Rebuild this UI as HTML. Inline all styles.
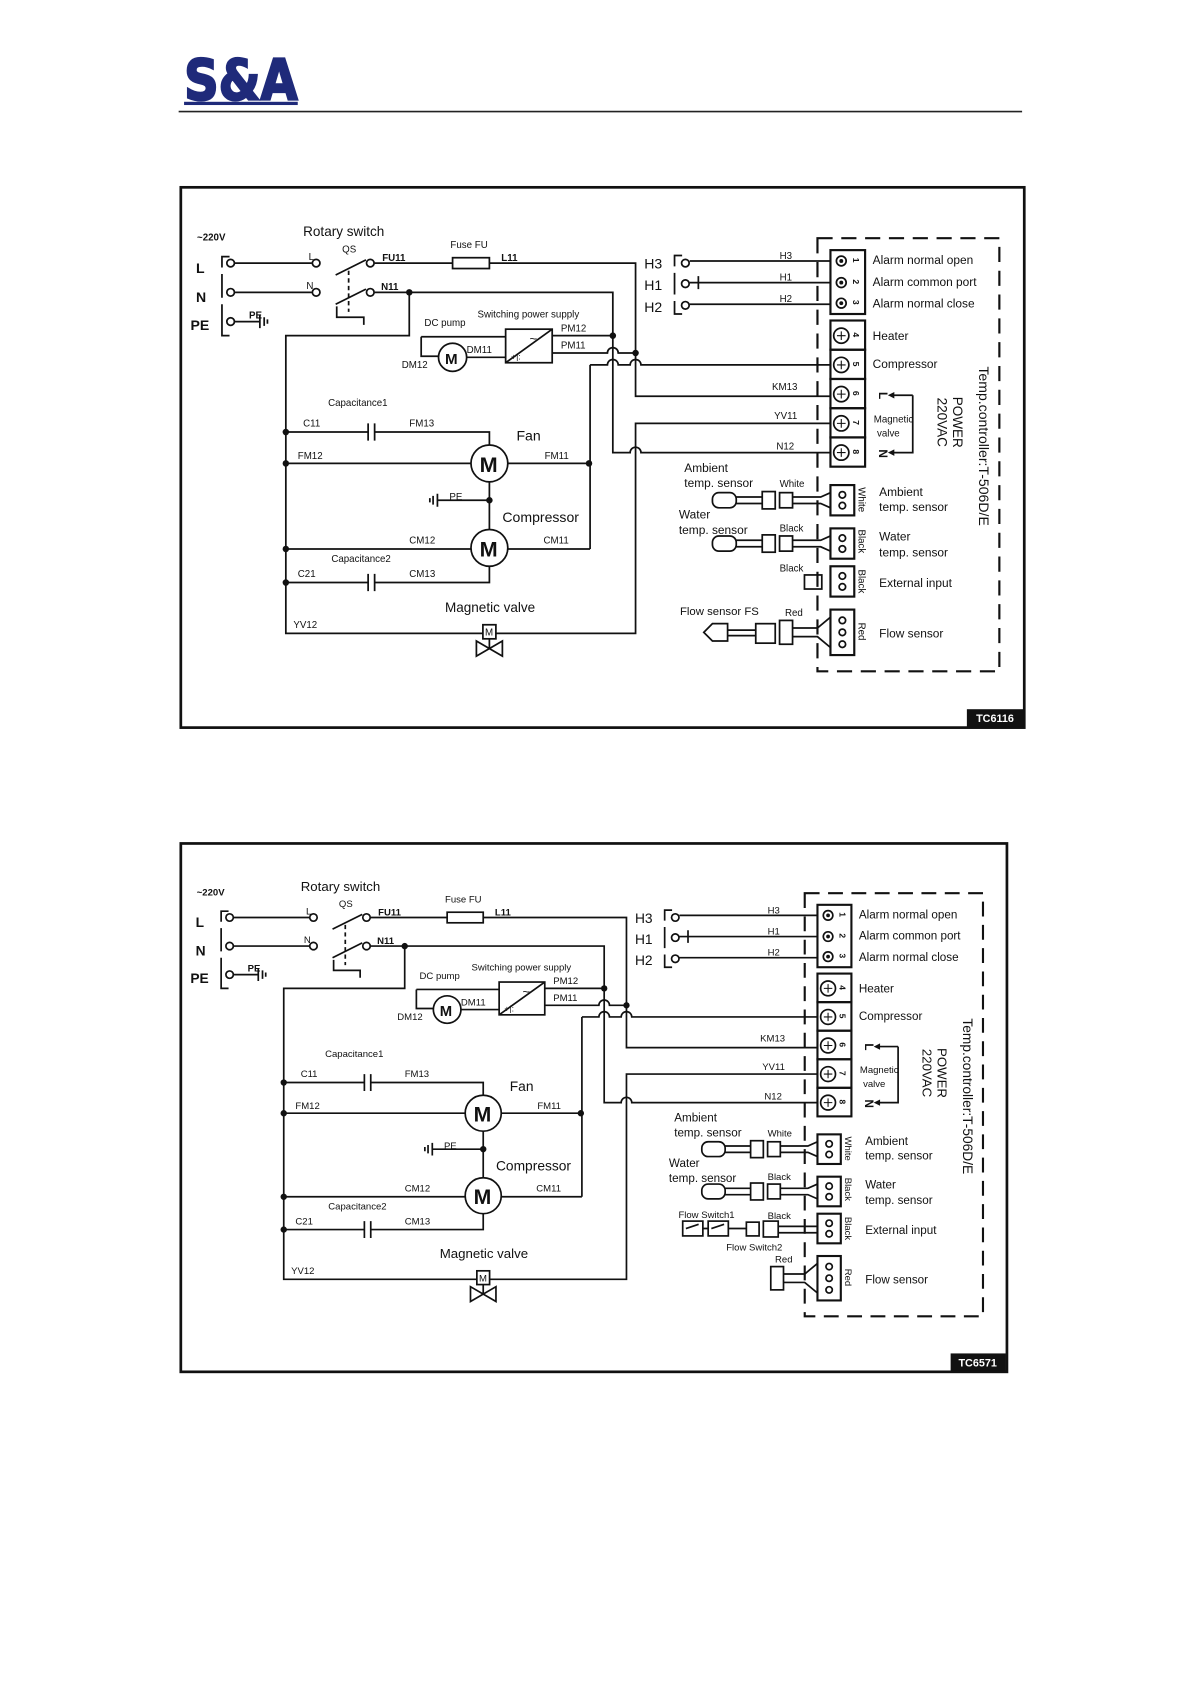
<!DOCTYPE html>
<html><head><meta charset="utf-8"><style>
html,body{margin:0;padding:0;background:#fff}
svg{display:block}
text{font-family:"Liberation Sans",sans-serif;fill:#111}
</style></head><body>
<svg width="1191" height="1684" viewBox="0 0 1100 1555.3" xmlns="http://www.w3.org/2000/svg">
<rect width="1100" height="1556" fill="#fff"/>
<!-- logo -->
<text x="170" y="92" font-weight="bold" font-size="52" textLength="105" lengthAdjust="spacingAndGlyphs" stroke="#1f2a7a" stroke-width="2" style="fill:#1f2a7a;font-family:'DejaVu Sans','Liberation Sans',sans-serif">S&amp;A</text>
<rect x="170" y="94" width="105" height="3" fill="#1f2a7a"/>
<line x1="165" y1="103" x2="944" y2="103" stroke="#222" stroke-width="1.5"/>

<!-- frames -->
<rect x="167" y="173" width="779" height="499" fill="none" stroke="#111" stroke-width="2.5"/>
<rect x="893" y="655" width="52" height="16" fill="#111"/>
<text x="919" y="667" font-size="10" font-weight="bold" text-anchor="middle" style="fill:#fff">TC6116</text>
<rect x="167" y="779" width="763" height="488" fill="none" stroke="#111" stroke-width="2.5"/>
<rect x="878" y="1250" width="51" height="16" fill="#111"/>
<text x="903" y="1262" font-size="10" font-weight="bold" text-anchor="middle" style="fill:#fff">TC6571</text>

<!-- DIAGRAM 1 -->
<g>
<g stroke="#111" stroke-width="1.6" fill="none">
<path d="M212,237 H205 V247 M205,253 V275 M205,281 V310 H212"/>
<circle cx="213" cy="243" r="3.5"/><circle cx="213" cy="270" r="3.5"/><circle cx="213" cy="297" r="3.5"/>
<path d="M217,243 H288 M217,270 H288 M217,297 H240 M240,291 V303 M244,293 V301 M247,295 V299"/>
<circle cx="292" cy="243" r="3.5"/><circle cx="342" cy="243" r="3.5"/>
<circle cx="292" cy="270" r="3.5"/><circle cx="342" cy="270" r="3.5"/>
<path d="M310,254 L338,240 M310,281 L338,267"/>
<path d="M322,250 V288" stroke-dasharray="4 3"/>
<path d="M311,283 V293 H336 V300"/>
<path d="M346,243 H418 M452,243 H587 V366 H767"/>
<rect x="418" y="238" width="34" height="10"/>
<path d="M346,270 H566 V418 H582 a5,5 0 0 1 10,0 H767"/>
<path d="M378,270 V310 H264 V585 H587 V391 H767"/>
<path d="M545,337 H561 a5,5 0 0 1 10,0 H582 a5,5 0 0 1 10,0 H767 M545,337 V507"/>
<path d="M510,326 H561 a5,5 0 0 1 10,0 H587 M510,310 H566"/>
<rect x="467" y="304" width="43" height="31"/>
<path d="M467,335 L510,304"/>
<circle cx="418" cy="330" r="13"/>
<path d="M389,311 H467 M389,311 V329 H405 M431,330 H467"/>
<circle cx="452" cy="428" r="17"/><circle cx="452" cy="506" r="17"/>
<path d="M264,399 H340 M346,399 H452 V411 M340,391 V407 M346,391 V407"/>
<path d="M264,428 H435 M469,428 H545 M452,445 V489 M404,462 H452 M404,456 V468 M400,458 V466 M397,460 V464"/>
<path d="M264,507 H435 M469,507 H545"/>
<path d="M264,538 H340 M346,538 H452 V523 M340,530 V546 M346,530 V546"/>
<rect x="446" y="577" width="12" height="13" fill="#fff"/>
<path d="M452,590 V599 M440,592 L464,606 V592 L440,606 Z"/>
<path d="M630,236 H623 V246 M623,252 V272 M623,278 V290 H630"/>
<circle cx="633" cy="243" r="3.5"/><circle cx="633" cy="262" r="3.5"/><circle cx="633" cy="282" r="3.5"/>
<path d="M637,241 H767 M637,261 H767 M637,281 H767 M645,255 V267"/>
<rect x="767" y="231" width="32" height="59" stroke-width="2"/>
<rect x="767" y="296" width="32" height="27" stroke-width="2"/>
<rect x="767" y="323" width="32" height="27" stroke-width="2"/>
<rect x="767" y="350" width="32" height="27" stroke-width="2"/>
<rect x="767" y="377" width="32" height="27" stroke-width="2"/>
<rect x="767" y="404" width="32" height="27" stroke-width="2"/>
<circle cx="777" cy="241" r="4.5"/><circle cx="777" cy="261" r="4.5"/><circle cx="777" cy="280" r="4.5"/>
<circle cx="777" cy="310" r="7"/><circle cx="777" cy="337" r="7"/><circle cx="777" cy="364" r="7"/><circle cx="777" cy="391" r="7"/><circle cx="777" cy="418" r="7"/>
<path d="M773,310 h8 M777,306 v8 M773,337 h8 M777,333 v8 M773,364 h8 M777,360 v8 M773,391 h8 M777,387 v8 M773,418 h8 M777,414 v8" stroke-width="1"/>
<path d="M843,365 H823 M843,365 V418 H823"/>
<path d="M755,220 H923 V620 H755 Z" stroke-dasharray="14 8" stroke-width="2"/>
<rect x="767" y="448" width="22" height="28" stroke-width="2" fill="#fff"/>
<rect x="767" y="488" width="22" height="28" stroke-width="2" fill="#fff"/>
<rect x="767" y="523" width="22" height="28" stroke-width="2" fill="#fff"/>
<rect x="767" y="563" width="22" height="42" stroke-width="2" fill="#fff"/>
<circle cx="778" cy="457" r="3"/><circle cx="778" cy="467" r="3"/>
<circle cx="778" cy="497" r="3"/><circle cx="778" cy="507" r="3"/>
<circle cx="778" cy="532" r="3"/><circle cx="778" cy="542" r="3"/>
<circle cx="778" cy="573" r="3"/><circle cx="778" cy="584" r="3"/><circle cx="778" cy="595" r="3"/>
<rect x="658" y="455" width="22" height="14" rx="6"/>
<path d="M680,459 H704 M680,465 H704"/>
<rect x="704" y="454" width="12" height="16"/><rect x="720" y="455" width="12" height="14"/>
<path d="M732,459 H758 L767,455 M732,465 H758 L767,469"/>
<rect x="658" y="495" width="22" height="14" rx="6"/>
<path d="M680,499 H704 M680,505 H704"/>
<rect x="704" y="494" width="12" height="16"/><rect x="720" y="495" width="12" height="14"/>
<path d="M732,499 H758 L767,495 M732,505 H758 L767,509"/>
<rect x="743" y="531" width="16" height="13"/>
<path d="M650,584 L658,576 H672 V592 H658 Z M672,582 H698 M672,587 H698"/>
<rect x="698" y="576" width="18" height="18"/><rect x="720" y="573" width="12" height="22"/>
<path d="M732,580 H755 L767,570 M732,588 H755 L767,598"/>
</g>
<g fill="#111">
<circle cx="378" cy="270" r="3"/><circle cx="587" cy="326" r="3"/><circle cx="566" cy="310" r="3"/>
<circle cx="544" cy="428" r="3"/><circle cx="452" cy="462" r="3"/>
<circle cx="264" cy="399" r="3"/><circle cx="264" cy="428" r="3"/><circle cx="264" cy="507" r="3"/><circle cx="264" cy="538" r="3"/>
<circle cx="777" cy="241" r="1.8"/><circle cx="777" cy="261" r="1.8"/><circle cx="777" cy="280" r="1.8"/>
<path d="M820,365 l6,-3 v6 Z M820,418 l6,-3 v6 Z"/>
</g>
<g font-size="9">
<text x="182" y="222" font-weight="bold">~220V</text>
<text x="181" y="252" font-size="13" font-weight="bold">L</text>
<text x="181" y="279" font-size="13" font-weight="bold">N</text>
<text x="176" y="305" font-size="13" font-weight="bold">PE</text>
<text x="230" y="294" font-weight="bold">PE</text>
<text x="280" y="218" font-size="12.5">Rotary switch</text>
<text x="316" y="233">QS</text>
<text x="285" y="240">L</text><text x="283" y="267">N</text>
<text x="353" y="241" font-weight="bold">FU11</text>
<text x="352" y="268" font-weight="bold">N11</text>
<text x="416" y="229">Fuse FU</text>
<text x="463" y="241" font-weight="bold">L11</text>
<text x="392" y="301">DC pump</text>
<text x="441" y="293">Switching power supply</text>
<text x="518" y="306">PM12</text><text x="518" y="322">PM11</text>
<text x="431" y="326">DM11</text><text x="371" y="340">DM12</text>
<text x="411" y="336" font-size="14" font-weight="bold">M</text>
<text x="489" y="317" font-size="12">~</text><text x="472" y="332" font-size="8">+|:</text>
<text x="303" y="375">Capacitance1</text>
<text x="280" y="394">C11</text><text x="378" y="394">FM13</text>
<text x="477" y="407" font-size="13">Fan</text>
<text x="275" y="424">FM12</text><text x="503" y="424">FM11</text>
<text x="443" y="436" font-size="20" font-weight="bold">M</text>
<text x="443" y="514" font-size="20" font-weight="bold">M</text>
<text x="415" y="462">PE</text>
<text x="464" y="482" font-size="13">Compressor</text>
<text x="378" y="502">CM12</text><text x="502" y="502">CM11</text>
<text x="306" y="519">Capacitance2</text>
<text x="275" y="533">C21</text><text x="378" y="533">CM13</text>
<text x="411" y="565" font-size="12.5">Magnetic valve</text>
<text x="271" y="580">YV12</text>
<text x="448" y="587" font-size="9">M</text>
<text x="595" y="248" font-size="13">H3</text>
<text x="595" y="268" font-size="13">H1</text>
<text x="595" y="288" font-size="13">H2</text>
<text x="720" y="239">H3</text><text x="720" y="259">H1</text><text x="720" y="279">H2</text>
<g font-size="8" font-weight="bold">
<text transform="translate(788,238) rotate(90)">1</text>
<text transform="translate(788,258) rotate(90)">2</text>
<text transform="translate(788,277) rotate(90)">3</text>
<text transform="translate(788,307) rotate(90)">4</text>
<text transform="translate(788,334) rotate(90)">5</text>
<text transform="translate(788,361) rotate(90)">6</text>
<text transform="translate(788,388) rotate(90)">7</text>
<text transform="translate(788,415) rotate(90)">8</text>
</g>
<g font-size="11">
<text x="806" y="244">Alarm normal open</text>
<text x="806" y="264">Alarm common port</text>
<text x="806" y="284">Alarm normal close</text>
<text x="806" y="314">Heater</text>
<text x="806" y="340">Compressor</text>
<text x="812" y="458">Ambient</text><text x="812" y="472">temp. sensor</text>
<text x="812" y="499">Water</text><text x="812" y="514">temp. sensor</text>
<text x="812" y="542">External input</text>
<text x="812" y="589">Flow sensor</text>
<text x="632" y="436">Ambient</text><text x="632" y="450">temp. sensor</text>
<text x="627" y="479">Water</text><text x="627" y="493">temp. sensor</text>
<text x="628" y="568" font-size="10.5">Flow sensor FS</text>
</g>
<text x="713" y="360">KM13</text><text x="715" y="387">YV11</text><text x="717" y="415">N12</text>
<text transform="translate(812,362) rotate(90)" font-size="11" font-weight="bold">L</text>
<text transform="translate(812,415) rotate(90)" font-size="11" font-weight="bold">N</text>
<text x="807" y="390">Magnetic</text><text x="810" y="403">valve</text>
<text transform="translate(880,390) rotate(90)" font-size="12.5" text-anchor="middle">POWER</text>
<text transform="translate(866,390) rotate(90)" font-size="12.5" text-anchor="middle">220VAC</text>
<text transform="translate(904,412) rotate(90)" font-size="13" text-anchor="middle">Temp.controller:T-506D/E</text>
<text x="720" y="450">White</text><text x="720" y="491">Black</text><text x="720" y="528">Black</text><text x="725" y="569">Red</text>
<text transform="translate(793,450) rotate(90)">White</text>
<text transform="translate(793,489) rotate(90)">Black</text>
<text transform="translate(793,526) rotate(90)">Black</text>
<text transform="translate(793,575) rotate(90)">Red</text>
</g>
</g>

<!-- DIAGRAM 2 -->
<g transform="translate(167,779) scale(0.98,0.977) translate(-167,-173)">
<g stroke="#111" stroke-width="1.6" fill="none">
<path d="M212,237 H205 V247 M205,253 V275 M205,281 V310 H212"/>
<circle cx="213" cy="243" r="3.5"/><circle cx="213" cy="270" r="3.5"/><circle cx="213" cy="297" r="3.5"/>
<path d="M217,243 H288 M217,270 H288 M217,297 H240 M240,291 V303 M244,293 V301 M247,295 V299"/>
<circle cx="292" cy="243" r="3.5"/><circle cx="342" cy="243" r="3.5"/>
<circle cx="292" cy="270" r="3.5"/><circle cx="342" cy="270" r="3.5"/>
<path d="M310,254 L338,240 M310,281 L338,267"/>
<path d="M322,250 V288" stroke-dasharray="4 3"/>
<path d="M311,283 V293 H336 V300"/>
<path d="M346,243 H418 M452,243 H587 V366 H767"/>
<rect x="418" y="238" width="34" height="10"/>
<path d="M346,270 H566 V418 H582 a5,5 0 0 1 10,0 H767"/>
<path d="M378,270 V310 H264 V585 H587 V391 H767"/>
<path d="M545,337 H561 a5,5 0 0 1 10,0 H582 a5,5 0 0 1 10,0 H767 M545,337 V507"/>
<path d="M510,326 H561 a5,5 0 0 1 10,0 H587 M510,310 H566"/>
<rect x="467" y="304" width="43" height="31"/>
<path d="M467,335 L510,304"/>
<circle cx="418" cy="330" r="13"/>
<path d="M389,311 H467 M389,311 V329 H405 M431,330 H467"/>
<circle cx="452" cy="428" r="17"/><circle cx="452" cy="506" r="17"/>
<path d="M264,399 H340 M346,399 H452 V411 M340,391 V407 M346,391 V407"/>
<path d="M264,428 H435 M469,428 H545 M452,445 V489 M404,462 H452 M404,456 V468 M400,458 V466 M397,460 V464"/>
<path d="M264,507 H435 M469,507 H545"/>
<path d="M264,538 H340 M346,538 H452 V523 M340,530 V546 M346,530 V546"/>
<rect x="446" y="577" width="12" height="13" fill="#fff"/>
<path d="M452,590 V599 M440,592 L464,606 V592 L440,606 Z"/>
<path d="M630,236 H623 V246 M623,252 V272 M623,278 V290 H630"/>
<circle cx="633" cy="243" r="3.5"/><circle cx="633" cy="262" r="3.5"/><circle cx="633" cy="282" r="3.5"/>
<path d="M637,241 H767 M637,261 H767 M637,281 H767 M645,255 V267"/>
<rect x="767" y="231" width="32" height="59" stroke-width="2"/>
<rect x="767" y="296" width="32" height="27" stroke-width="2"/>
<rect x="767" y="323" width="32" height="27" stroke-width="2"/>
<rect x="767" y="350" width="32" height="27" stroke-width="2"/>
<rect x="767" y="377" width="32" height="27" stroke-width="2"/>
<rect x="767" y="404" width="32" height="27" stroke-width="2"/>
<circle cx="777" cy="241" r="4.5"/><circle cx="777" cy="261" r="4.5"/><circle cx="777" cy="280" r="4.5"/>
<circle cx="777" cy="310" r="7"/><circle cx="777" cy="337" r="7"/><circle cx="777" cy="364" r="7"/><circle cx="777" cy="391" r="7"/><circle cx="777" cy="418" r="7"/>
<path d="M773,310 h8 M777,306 v8 M773,337 h8 M777,333 v8 M773,364 h8 M777,360 v8 M773,391 h8 M777,387 v8 M773,418 h8 M777,414 v8" stroke-width="1"/>
<path d="M843,365 H823 M843,365 V418 H823"/>
<path d="M755,220 H923 V620 H755 Z" stroke-dasharray="14 8" stroke-width="2"/>
<rect x="767" y="448" width="22" height="28" stroke-width="2" fill="#fff"/>
<rect x="767" y="488" width="22" height="28" stroke-width="2" fill="#fff"/>
<rect x="767" y="523" width="22" height="28" stroke-width="2" fill="#fff"/>
<rect x="767" y="563" width="22" height="42" stroke-width="2" fill="#fff"/>
<circle cx="778" cy="457" r="3"/><circle cx="778" cy="467" r="3"/>
<circle cx="778" cy="497" r="3"/><circle cx="778" cy="507" r="3"/>
<circle cx="778" cy="532" r="3"/><circle cx="778" cy="542" r="3"/>
<circle cx="778" cy="573" r="3"/><circle cx="778" cy="584" r="3"/><circle cx="778" cy="595" r="3"/>
<rect x="658" y="455" width="22" height="14" rx="6"/>
<path d="M680,459 H704 M680,465 H704"/>
<rect x="704" y="454" width="12" height="16"/><rect x="720" y="455" width="12" height="14"/>
<path d="M732,459 H758 L767,455 M732,465 H758 L767,469"/>
<rect x="658" y="495" width="22" height="14" rx="6"/>
<path d="M680,499 H704 M680,505 H704"/>
<rect x="704" y="494" width="12" height="16"/><rect x="720" y="495" width="12" height="14"/>
<path d="M732,499 H758 L767,495 M732,505 H758 L767,509"/>
<rect x="640" y="530" width="19" height="14"/><rect x="664" y="530" width="19" height="14"/>
<path d="M643,537 L655,533 M667,537 L679,533 M659,537 H664 M683,537 H700"/>
<rect x="700" y="531" width="12" height="13"/><rect x="716" y="530" width="14" height="15"/>
<path d="M730,535 H767 M730,541 H767"/>
<rect x="723" y="573" width="12" height="22"/>
<path d="M735,580 H755 L767,570 M735,588 H755 L767,598"/>
</g>
<g fill="#111">
<circle cx="378" cy="270" r="3"/><circle cx="587" cy="326" r="3"/><circle cx="566" cy="310" r="3"/>
<circle cx="544" cy="428" r="3"/><circle cx="452" cy="462" r="3"/>
<circle cx="264" cy="399" r="3"/><circle cx="264" cy="428" r="3"/><circle cx="264" cy="507" r="3"/><circle cx="264" cy="538" r="3"/>
<circle cx="777" cy="241" r="1.8"/><circle cx="777" cy="261" r="1.8"/><circle cx="777" cy="280" r="1.8"/>
<path d="M820,365 l6,-3 v6 Z M820,418 l6,-3 v6 Z"/>
</g>
<g font-size="9">
<text x="182" y="222" font-weight="bold">~220V</text>
<text x="181" y="252" font-size="13" font-weight="bold">L</text>
<text x="181" y="279" font-size="13" font-weight="bold">N</text>
<text x="176" y="305" font-size="13" font-weight="bold">PE</text>
<text x="230" y="294" font-weight="bold">PE</text>
<text x="280" y="218" font-size="12.5">Rotary switch</text>
<text x="316" y="233">QS</text>
<text x="285" y="240">L</text><text x="283" y="267">N</text>
<text x="353" y="241" font-weight="bold">FU11</text>
<text x="352" y="268" font-weight="bold">N11</text>
<text x="416" y="229">Fuse FU</text>
<text x="463" y="241" font-weight="bold">L11</text>
<text x="392" y="301">DC pump</text>
<text x="441" y="293">Switching power supply</text>
<text x="518" y="306">PM12</text><text x="518" y="322">PM11</text>
<text x="431" y="326">DM11</text><text x="371" y="340">DM12</text>
<text x="411" y="336" font-size="14" font-weight="bold">M</text>
<text x="489" y="317" font-size="12">~</text><text x="472" y="332" font-size="8">+|:</text>
<text x="303" y="375">Capacitance1</text>
<text x="280" y="394">C11</text><text x="378" y="394">FM13</text>
<text x="477" y="407" font-size="13">Fan</text>
<text x="275" y="424">FM12</text><text x="503" y="424">FM11</text>
<text x="443" y="436" font-size="20" font-weight="bold">M</text>
<text x="443" y="514" font-size="20" font-weight="bold">M</text>
<text x="415" y="462">PE</text>
<text x="464" y="482" font-size="13">Compressor</text>
<text x="378" y="502">CM12</text><text x="502" y="502">CM11</text>
<text x="306" y="519">Capacitance2</text>
<text x="275" y="533">C21</text><text x="378" y="533">CM13</text>
<text x="411" y="565" font-size="12.5">Magnetic valve</text>
<text x="271" y="580">YV12</text>
<text x="448" y="587" font-size="9">M</text>
<text x="595" y="248" font-size="13">H3</text>
<text x="595" y="268" font-size="13">H1</text>
<text x="595" y="288" font-size="13">H2</text>
<text x="720" y="239">H3</text><text x="720" y="259">H1</text><text x="720" y="279">H2</text>
<g font-size="8" font-weight="bold">
<text transform="translate(788,238) rotate(90)">1</text>
<text transform="translate(788,258) rotate(90)">2</text>
<text transform="translate(788,277) rotate(90)">3</text>
<text transform="translate(788,307) rotate(90)">4</text>
<text transform="translate(788,334) rotate(90)">5</text>
<text transform="translate(788,361) rotate(90)">6</text>
<text transform="translate(788,388) rotate(90)">7</text>
<text transform="translate(788,415) rotate(90)">8</text>
</g>
<g font-size="11">
<text x="806" y="244">Alarm normal open</text>
<text x="806" y="264">Alarm common port</text>
<text x="806" y="284">Alarm normal close</text>
<text x="806" y="314">Heater</text>
<text x="806" y="340">Compressor</text>
<text x="812" y="458">Ambient</text><text x="812" y="472">temp. sensor</text>
<text x="812" y="499">Water</text><text x="812" y="514">temp. sensor</text>
<text x="812" y="542">External input</text>
<text x="812" y="589">Flow sensor</text>
<text x="632" y="436">Ambient</text><text x="632" y="450">temp. sensor</text>
<text x="627" y="479">Water</text><text x="627" y="493">temp. sensor</text>
</g>
<text x="636" y="527">Flow Switch1</text>
<text x="681" y="558">Flow Switch2</text>
<text x="713" y="360">KM13</text><text x="715" y="387">YV11</text><text x="717" y="415">N12</text>
<text transform="translate(812,362) rotate(90)" font-size="11" font-weight="bold">L</text>
<text transform="translate(812,415) rotate(90)" font-size="11" font-weight="bold">N</text>
<text x="807" y="390">Magnetic</text><text x="810" y="403">valve</text>
<text transform="translate(880,390) rotate(90)" font-size="12.5" text-anchor="middle">POWER</text>
<text transform="translate(866,390) rotate(90)" font-size="12.5" text-anchor="middle">220VAC</text>
<text transform="translate(904,412) rotate(90)" font-size="13" text-anchor="middle">Temp.controller:T-506D/E</text>
<text x="720" y="450">White</text><text x="720" y="491">Black</text><text x="720" y="528">Black</text><text x="727" y="569">Red</text>
<text transform="translate(793,450) rotate(90)">White</text>
<text transform="translate(793,489) rotate(90)">Black</text>
<text transform="translate(793,526) rotate(90)">Black</text>
<text transform="translate(793,575) rotate(90)">Red</text>
</g>
</g>
</svg>
</body></html>
